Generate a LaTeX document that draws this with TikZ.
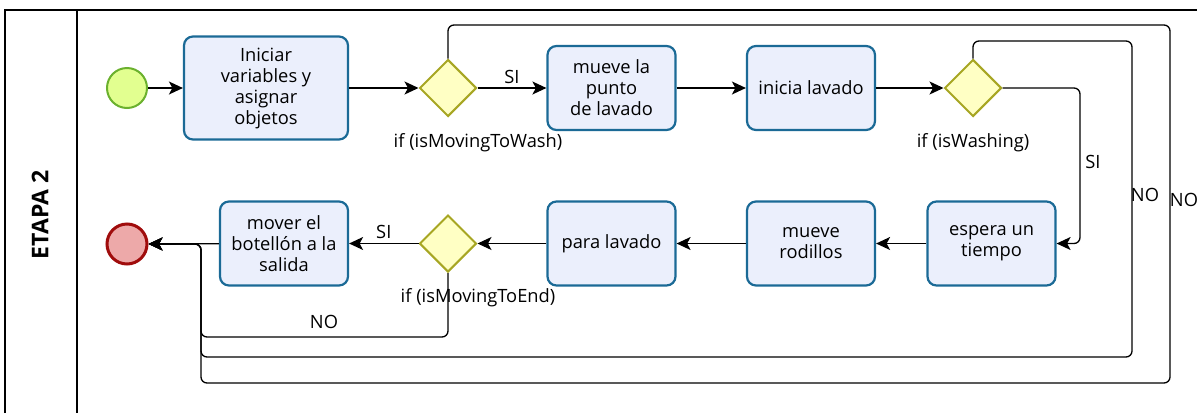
\documentclass[tikz,border=0pt]{standalone}
\usepackage{fontspec}
\setmainfont{Open Sans}
\usetikzlibrary{arrows.meta,shapes.geometric}

\definecolor{boxfill}{HTML}{EBEFFC}
\definecolor{boxline}{HTML}{1B6A96}
\definecolor{gatefill}{HTML}{FFFFC4}
\definecolor{gateline}{HTML}{A7A623}
\definecolor{startfill}{HTML}{E2FF90}
\definecolor{startline}{HTML}{6BB12E}
\definecolor{endfill}{HTML}{EDA9A9}
\definecolor{endline}{HTML}{A00C0C}

\begin{document}
\begin{tikzpicture}[x=1pt,y=-1pt,
  task/.style={draw=boxline,fill=boxfill,line width=2.2pt,rounded corners=9pt,
    minimum width=128pt,minimum height=84pt,align=center,inner sep=2pt,
    font=\fontsize{18.3}{21}\selectfont},
  gate/.style={diamond,draw=gateline,fill=gatefill,line width=2pt,
    minimum width=57pt,minimum height=57pt,inner sep=0pt},
  event/.style={circle,minimum size=40pt,inner sep=0pt},
  flow/.style={-{Stealth[length=14pt,width=13pt,inset=3.5pt]},line width=1.3pt,rounded corners=6pt},
  lbl/.style={font=\fontsize{18.3}{21}\selectfont,inner sep=1pt}]
\useasboundingbox (0,0) rectangle (1197,413);
% pool
\draw[line width=1.3pt] (5,413) -- (5,10) -- (1197,10);
\draw[line width=1.3pt] (77,10) -- (77,413);
\node[rotate=90,font=\bfseries\fontsize{23}{26}\selectfont] (pool) at (40,215) {ETAPA 2};
% events
\node[event,draw=startline,fill=startfill,line width=2pt] (ini) at (127,88) {};
\node[event,draw=endline,fill=endfill,line width=3pt] (fin) at (127,244) {};
% tasks, first row
\node[task,minimum width=164pt,minimum height=103pt] (init) at (266,88) {Iniciar\\variables y\\asignar\\objetos};
\node[gate] (gMove) at (448,88) {};
\node[task] (moveWash) at (611.5,88) {mueve la\\punto\\de lavado};
\node[task] (startWash) at (811,88) {inicia lavado};
\node[gate] (gWash) at (973,88) {};
% tasks, second row
\node[task] (wait) at (991.5,243.5) {espera un\\tiempo};
\node[task] (rollers) at (811,243.5) {mueve\\rodillos};
\node[task] (stopWash) at (611.5,243.5) {para lavado};
\node[gate] (gEnd) at (448,243.5) {};
\node[task] (exitBottle) at (284,243.5) {mover el\\botellón a la\\salida};
% gate texts
\node[lbl] (tMove) at (478,143) {if (isMovingToWash)};
\node[lbl] (tWash) at (973,143) {if (isWashing)};
\node[lbl] (tEnd) at (478,298) {if (isMovingToEnd)};
% lanes for the loops
\coordinate (siLane) at (1080,0);
\coordinate (noInner) at (1132,41);
\coordinate (noOuter) at (1170,25);
\coordinate (backEnd) at (201,337);
\coordinate (backInner) at (201,357);
\coordinate (backOuter) at (201,383);
% flows
\draw[flow] (ini) -- (init);
\draw[flow] (init) -- (gMove);
\draw[flow] (gMove) -- node[lbl,above=3pt] {SI} (moveWash);
\draw[flow] (moveWash) -- (startWash);
\draw[flow] (startWash) -- (gWash);
\draw[flow] (gWash.east) -| (siLane |- wait.east) -- (wait.east);
\node[lbl] (siWash) at (1093,162) {SI};
\draw[flow] (wait) -- (rollers);
\draw[flow] (rollers) -- (stopWash);
\draw[flow] (stopWash) -- (gEnd);
\draw[flow] (gEnd) -- node[lbl,above=3pt] {SI} (exitBottle);
\draw[flow] (exitBottle) -- (fin);
\draw[flow] (gEnd.south) |- (backEnd) |- (fin.east);
\node[lbl] (noEnd) at (324,322) {NO};
\draw[flow] (gWash.north) |- (noInner) |- (backInner) |- (fin.east);
\node[lbl] (noWash) at (1145,195) {NO};
\draw[flow] (gMove.north) |- (noOuter) |- (backOuter) |- (fin.east);
\node[lbl] (noMove) at (1184,200) {NO};
\end{tikzpicture}
\end{document}
